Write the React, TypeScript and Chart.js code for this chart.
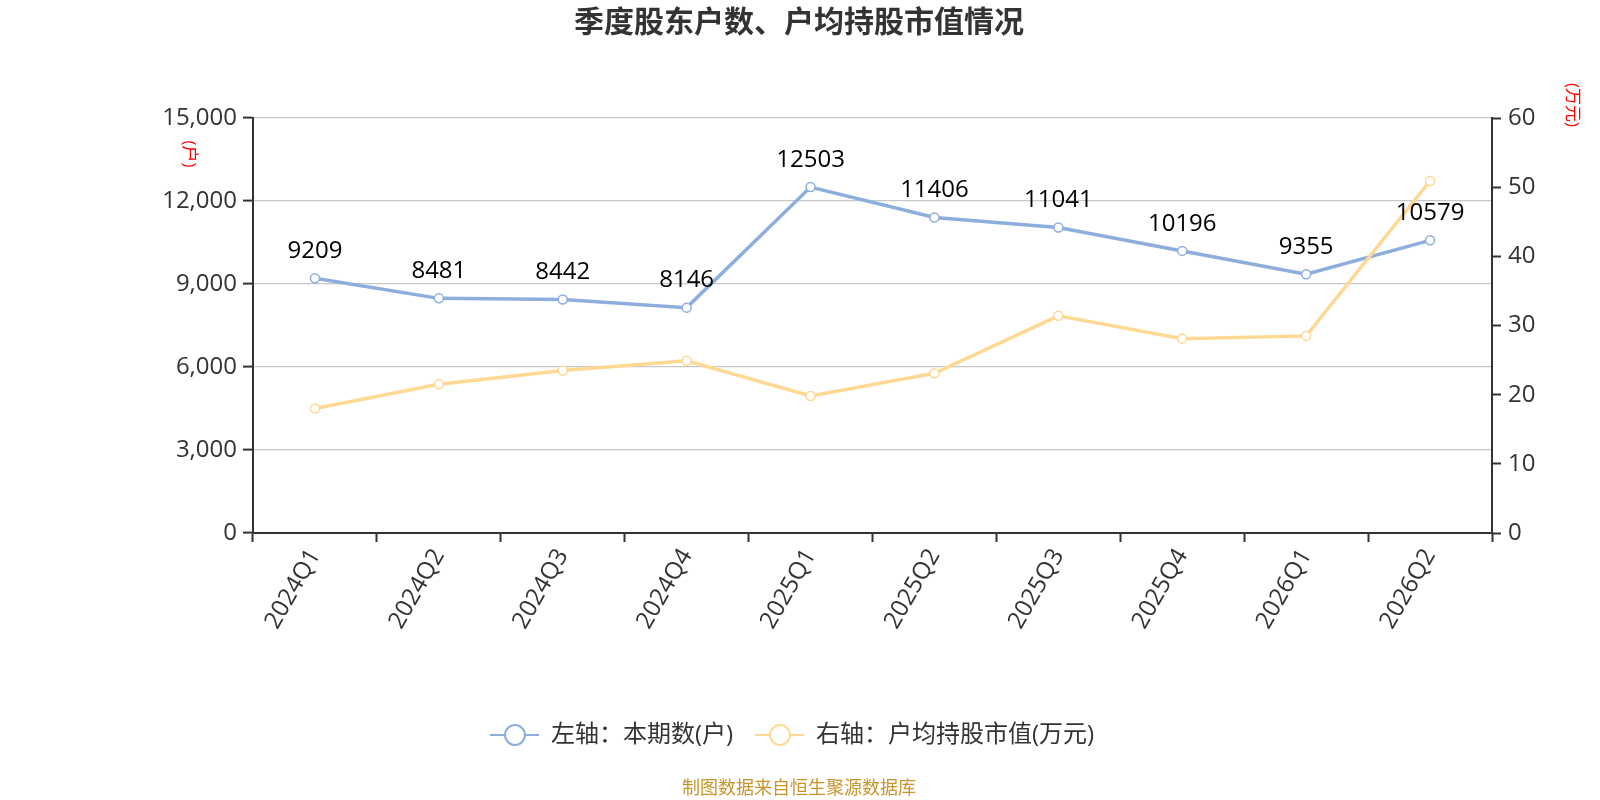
import { useEffect, useRef } from "react";
import { Chart, registerables } from "chart.js";

Chart.register(...registerables);

// data
const quarters = ["2024Q1", "2024Q2", "2024Q3", "2024Q4", "2025Q1", "2025Q2", "2025Q3", "2025Q4", "2026Q1", "2026Q2"];
const holders = [9209, 8481, 8442, 8146, 12503, 11406, 11041, 10196, 9355, 10579];
const avgValue = [18.0, 21.5, 23.5, 24.9, 19.8, 23.1, 31.4, 28.1, 28.5, 50.9];
const legendLabels = ["左轴：本期数(户)", "右轴：户均持股市值(万元)"];

const TITLE = "季度股东户数、户均持股市值情况";
const SOURCE = "制图数据来自恒生聚源数据库";
const BLUE = "#8DAEDD";
const ORANGE = "#FFD993";
const FONT = '"Open Sans", "Noto Sans CJK SC", sans-serif';

const overlayPlugin = {
  id: "overlay",
  afterDraw(chart: Chart) {
    const ctx = chart.ctx;
    ctx.save();

    // title
    ctx.fillStyle = "#333";
    ctx.font = `bold 30px ${FONT}`;
    ctx.textAlign = "center";
    ctx.textBaseline = "middle";
    ctx.fillText(TITLE, 799, 23);

    // point labels for holders
    ctx.fillStyle = "#000";
    ctx.font = `24px ${FONT}`;
    const meta = chart.getDatasetMeta(0);
    meta.data.forEach((pt: any, i: number) => {
      ctx.fillText(String(holders[i]), pt.x, pt.y - 27);
    });

    // axis unit titles, rotated clockwise
    ctx.fillStyle = "#f00";
    ctx.font = `17px ${FONT}`;
    const vtext = (t: string, x: number, y: number) => {
      ctx.save();
      ctx.translate(x, y);
      ctx.rotate(Math.PI / 2);
      ctx.fillText(t, 0, 0);
      ctx.restore();
    };
    vtext("(户)", 189, 154);
    vtext("(万元)", 1572, 105);

    // legend
    const ly = 735;
    const items = [
      { color: BLUE, x: 490, label: legendLabels[0] },
      { color: ORANGE, x: 755, label: legendLabels[1] },
    ];
    items.forEach((it) => {
      ctx.strokeStyle = it.color;
      ctx.lineWidth = 2;
      ctx.beginPath();
      ctx.moveTo(it.x, ly);
      ctx.lineTo(it.x + 49, ly);
      ctx.stroke();
      ctx.beginPath();
      ctx.arc(it.x + 25, ly, 10, 0, Math.PI * 2);
      ctx.fillStyle = "#fff";
      ctx.fill();
      ctx.stroke();
      ctx.fillStyle = "#333";
      ctx.font = `24px ${FONT}`;
      ctx.textAlign = "left";
      ctx.fillText(it.label, it.x + 61, ly);
    });

    // source note
    ctx.fillStyle = "#C9952B";
    ctx.font = `18px ${FONT}`;
    ctx.textAlign = "center";
    ctx.fillText(SOURCE, 799, 789);

    ctx.restore();
  },
};

export default function App() {
  const canvasRef = useRef<HTMLCanvasElement>(null);
  const chartRef = useRef<Chart | null>(null);

  useEffect(() => {
    if (!canvasRef.current) return;
    if (chartRef.current) chartRef.current.destroy();

    chartRef.current = new Chart(canvasRef.current, {
      type: "line",
      data: {
        labels: quarters,
        datasets: [
          {
            label: legendLabels[0],
            data: holders,
            yAxisID: "y",
            borderColor: BLUE,
            borderWidth: 3.5,
            pointRadius: 4.5,
            pointBackgroundColor: "#fff",
            pointBorderColor: BLUE,
            pointBorderWidth: 1.5,
            order: 1,
          },
          {
            label: legendLabels[1],
            data: avgValue,
            yAxisID: "y1",
            borderColor: ORANGE,
            borderWidth: 3.5,
            pointRadius: 4.5,
            pointBackgroundColor: "#fff",
            pointBorderColor: ORANGE,
            pointBorderWidth: 1.5,
            order: 0,
          },
        ],
      },
      options: {
        responsive: true,
        maintainAspectRatio: false,
        animation: false,
        layout: { padding: { top: 118, left: 0, right: 0, bottom: 0 } },
        plugins: {
          legend: { display: false },
          title: { display: false },
          tooltip: { enabled: false },
        },
        scales: {
          x: {
            offset: true,
            grid: {
              offset: true,
              drawOnChartArea: false,
              drawTicks: true,
              tickLength: 9,
              tickColor: "#333",
              tickWidth: 2,
            },
            border: { color: "#333", width: 2 },
            ticks: {
              color: "#333",
              font: { size: 24, family: FONT },
              minRotation: 60,
              maxRotation: 60,
              padding: 2,
            },
            afterFit: (scale: any) => {
              scale.height = 267;
            },
          },
          y: {
            position: "left",
            min: 0,
            max: 15000,
            grid: {
              color: "#C8C8C8",
              lineWidth: 1.2,
              tickColor: "#333",
              tickLength: 10,
              tickWidth: 2,
            },
            border: { color: "#333", width: 2 },
            ticks: {
              stepSize: 3000,
              color: "#333",
              font: { size: 24, family: FONT },
              padding: 6,
              callback: (v: any) => Number(v).toLocaleString("en-US"),
            },
            afterFit: (scale: any) => {
              scale.width = 253;
            },
          },
          y1: {
            position: "right",
            min: 0,
            max: 60,
            grid: {
              drawOnChartArea: false,
              tickColor: "#333",
              tickLength: 9,
              tickWidth: 2,
            },
            border: { color: "#333", width: 2 },
            ticks: {
              stepSize: 10,
              color: "#333",
              font: { size: 24, family: FONT },
              padding: 7,
            },
            afterFit: (scale: any) => {
              scale.width = 108;
            },
          },
        },
      },
      plugins: [overlayPlugin],
    });

    return () => {
      if (chartRef.current) {
        chartRef.current.destroy();
        chartRef.current = null;
      }
    };
  }, []);

  return (
    <div style={{ position: "fixed", left: 0, top: 0, width: 1600, height: 800, background: "#fff" }}>
      <canvas ref={canvasRef} />
    </div>
  );
}
